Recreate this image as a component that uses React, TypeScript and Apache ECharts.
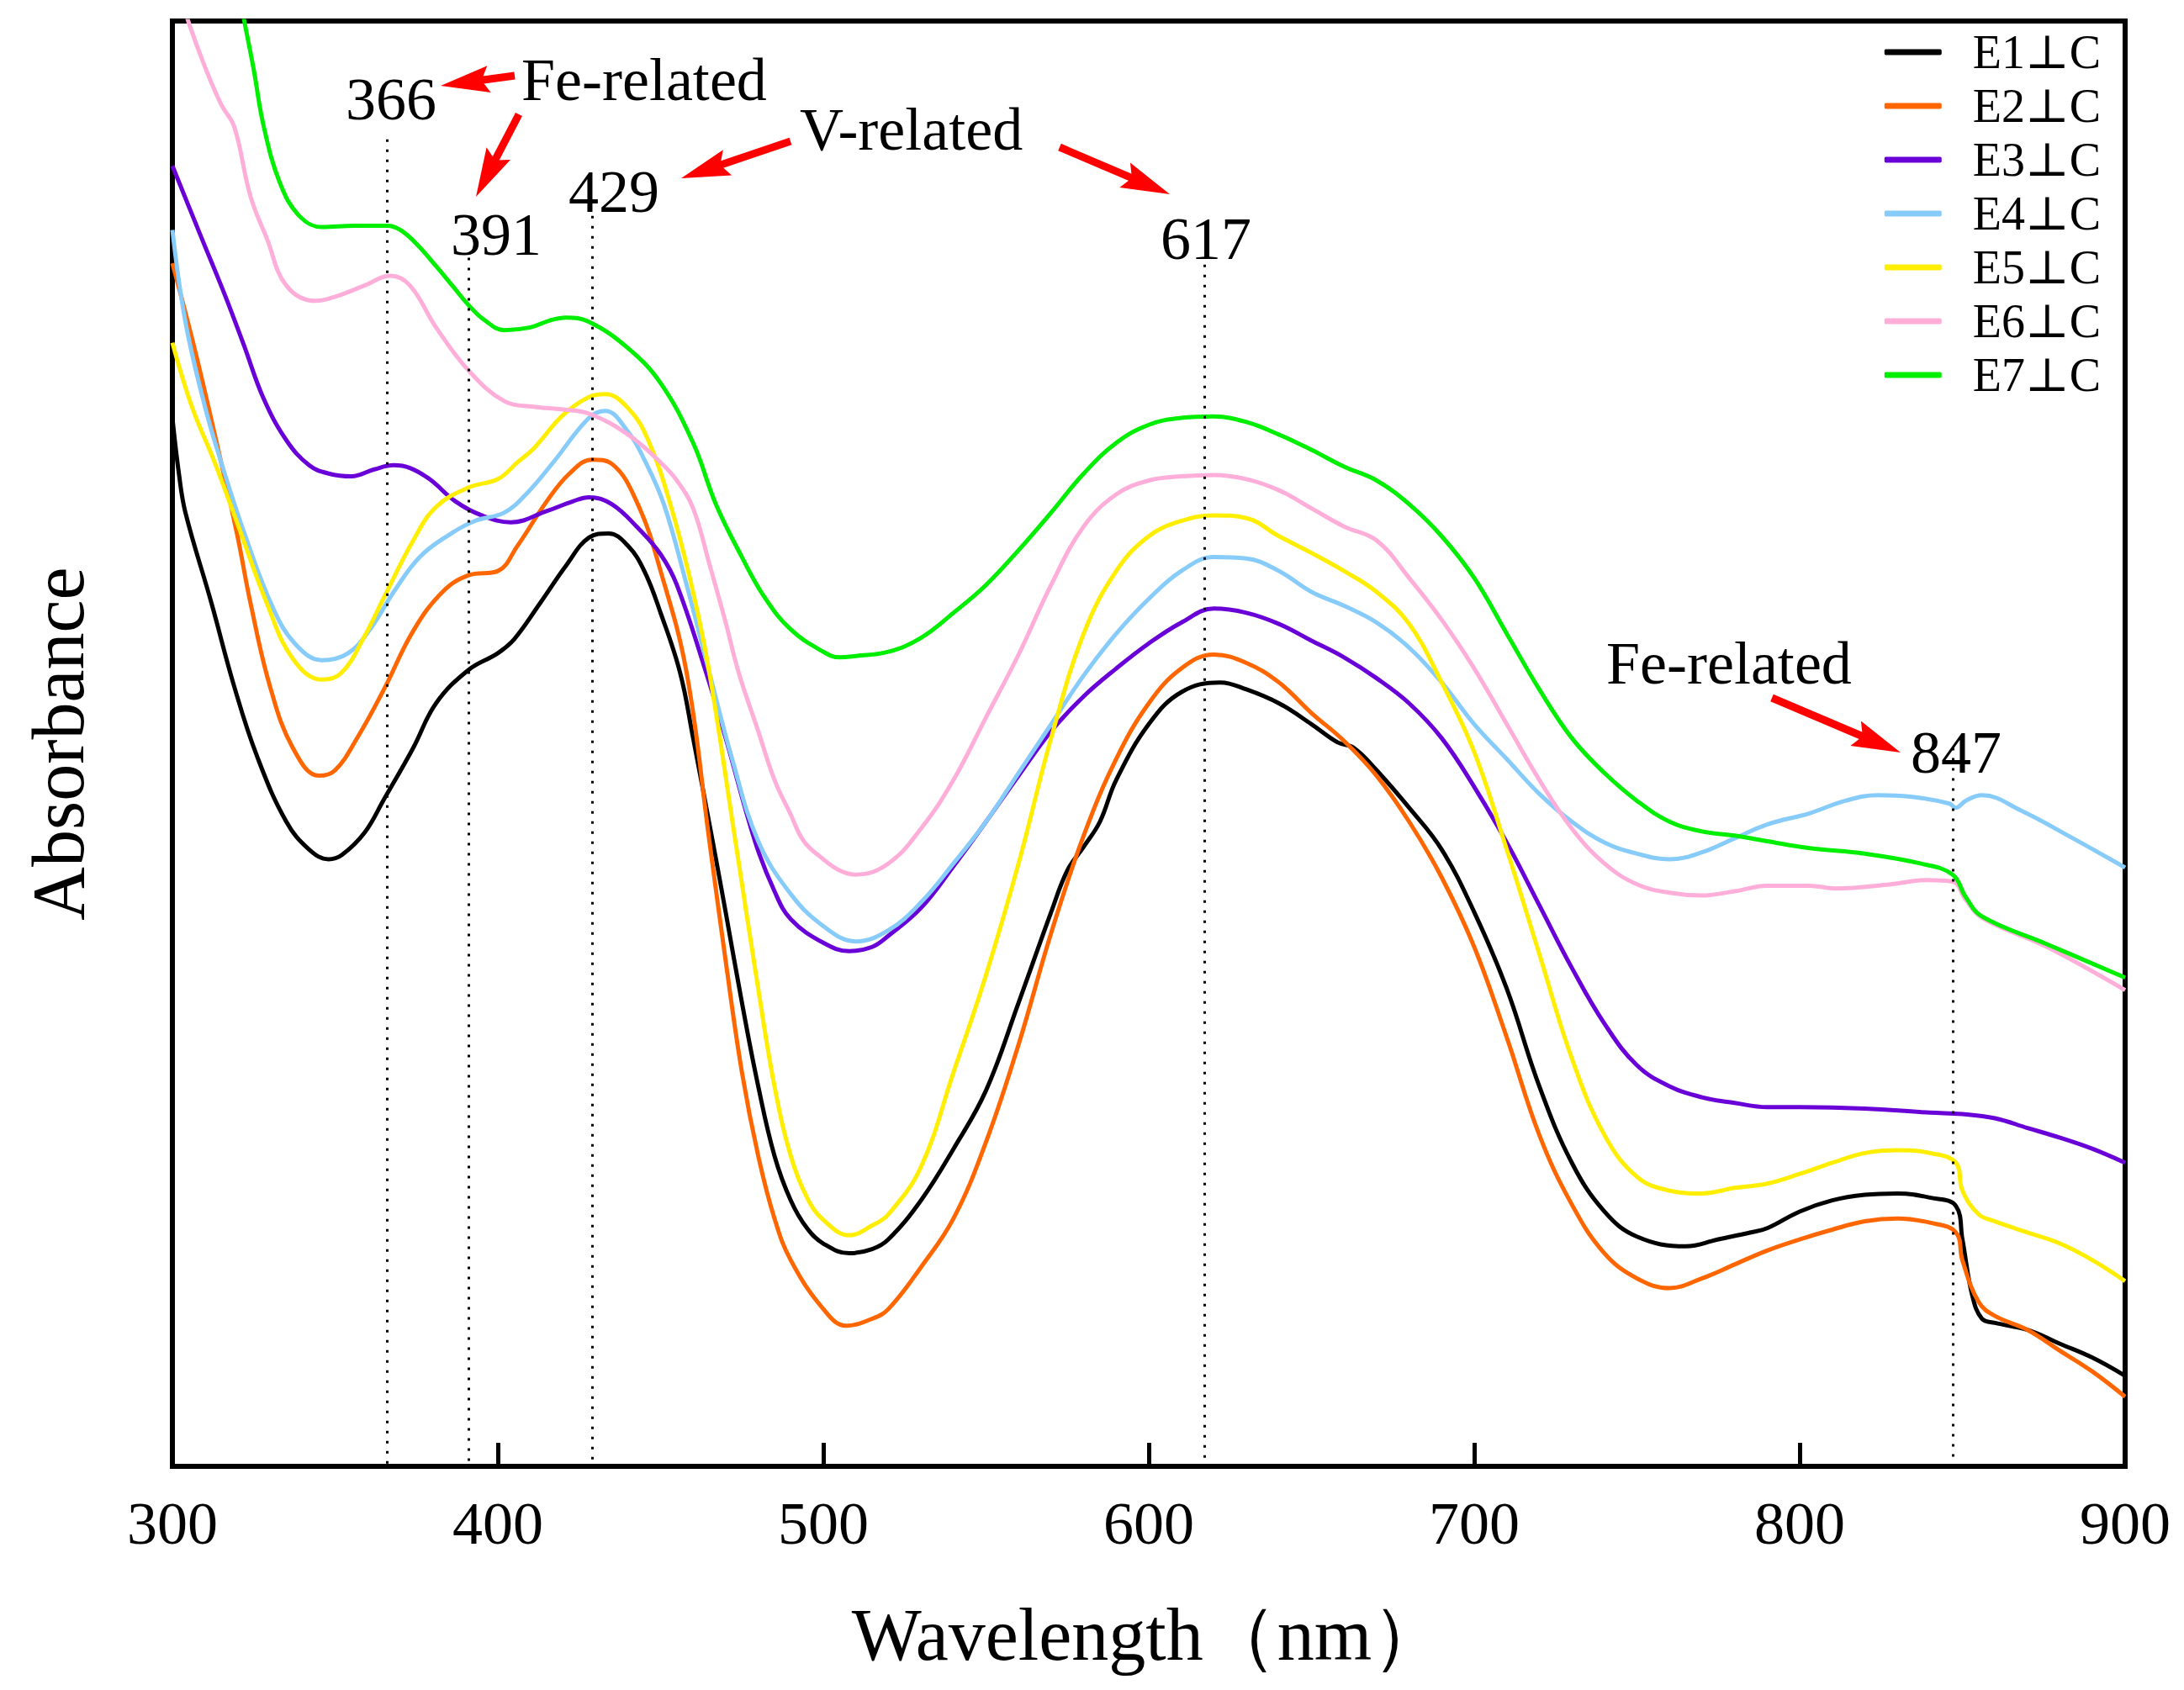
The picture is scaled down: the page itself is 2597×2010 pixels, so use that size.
import React, { useEffect, useRef } from "react";
import * as echarts from "echarts";

const FONT = '"Liberation Serif", "Times New Roman", "DejaVu Serif", serif';

const SERIES_NAMES = ["E1⊥C", "E2⊥C", "E3⊥C", "E4⊥C", "E5⊥C", "E6⊥C", "E7⊥C"];
const SERIES_COLORS = ["#000000", "#FF6600", "#6A00D8", "#86CBFA", "#FFEE00", "#FFAED9", "#00EE00"];

// [wavelength nm, absorbance a.u.]
const E1: number[][] = [
  [300, 0.753], [302, 0.713], [304, 0.685], [312, 0.62], [319, 0.56], [326, 0.51], [335, 0.463], [342, 0.443],
  [348, 0.436], [352, 0.439], [359, 0.455], [365, 0.479], [374, 0.516], [381, 0.548], [391, 0.572], [400, 0.584],
  [405, 0.594], [413, 0.62], [421, 0.647], [428, 0.667], [434, 0.67], [440, 0.661], [445, 0.643], [450, 0.613],
  [456, 0.57], [460, 0.523], [466, 0.449], [470, 0.398], [475, 0.333], [480, 0.273], [485, 0.223], [490, 0.191],
  [495, 0.171], [500, 0.16], [508, 0.153], [515, 0.156], [520, 0.163], [530, 0.191], [540, 0.228], [550, 0.27],
  [560, 0.333], [570, 0.398], [575, 0.428], [580, 0.445], [585, 0.463], [590, 0.493], [600, 0.533], [610, 0.556],
  [622, 0.563], [630, 0.558], [640, 0.548], [650, 0.533], [658, 0.52], [663, 0.516], [670, 0.5], [680, 0.473],
  [690, 0.443], [700, 0.398], [710, 0.343], [720, 0.273], [730, 0.218], [740, 0.183], [750, 0.165], [765, 0.158],
  [775, 0.163], [785, 0.168], [790, 0.171], [800, 0.183], [810, 0.191], [820, 0.195], [830, 0.196], [840, 0.193],
  [848, 0.187], [850, 0.163], [853, 0.123], [856, 0.106], [860, 0.103], [870, 0.098], [880, 0.088], [890, 0.078],
  [900, 0.065],
];
const E2: number[][] = [
  [300, 0.864], [307, 0.801], [314, 0.731], [320, 0.668], [324, 0.62], [330, 0.56], [337, 0.516], [345, 0.496],
  [350, 0.5], [357, 0.524], [365, 0.558], [374, 0.6], [383, 0.628], [391, 0.64], [400, 0.643], [406, 0.661],
  [415, 0.693], [422, 0.713], [429, 0.723], [435, 0.72], [443, 0.691], [450, 0.643], [458, 0.57], [465, 0.449],
  [470, 0.363], [475, 0.283], [480, 0.223], [485, 0.178], [490, 0.148], [500, 0.113], [507, 0.101], [515, 0.106],
  [520, 0.113], [530, 0.143], [540, 0.178], [550, 0.233], [560, 0.303], [570, 0.383], [580, 0.453], [590, 0.508],
  [600, 0.548], [610, 0.573], [620, 0.583], [630, 0.577], [640, 0.563], [650, 0.541], [660, 0.521], [670, 0.496],
  [680, 0.463], [690, 0.423], [700, 0.373], [710, 0.308], [720, 0.238], [730, 0.188], [740, 0.153], [750, 0.135],
  [760, 0.128], [770, 0.135], [780, 0.145], [790, 0.155], [800, 0.163], [810, 0.17], [820, 0.176], [830, 0.178],
  [840, 0.175], [848, 0.168], [850, 0.148], [855, 0.118], [860, 0.108], [870, 0.098], [880, 0.083], [890, 0.068],
  [900, 0.05],
];
const E3: number[][] = [
  [300, 0.934], [309, 0.882], [316, 0.842], [322, 0.805], [328, 0.767], [335, 0.737], [342, 0.719], [348, 0.713],
  [355, 0.711], [362, 0.716], [368, 0.719], [373, 0.717], [379, 0.709], [387, 0.693], [395, 0.683], [404, 0.678],
  [415, 0.686], [423, 0.693], [428, 0.696], [435, 0.691], [443, 0.674], [450, 0.655], [455, 0.633], [464, 0.57],
  [470, 0.523], [479, 0.449], [485, 0.413], [490, 0.393], [500, 0.376], [508, 0.37], [515, 0.373], [520, 0.381],
  [530, 0.401], [540, 0.431], [550, 0.463], [560, 0.496], [570, 0.528], [580, 0.553], [590, 0.573], [600, 0.591],
  [610, 0.606], [620, 0.616], [630, 0.613], [640, 0.605], [650, 0.593], [660, 0.581], [670, 0.566], [680, 0.548],
  [690, 0.523], [700, 0.488], [710, 0.448], [720, 0.403], [730, 0.358], [740, 0.318], [750, 0.288], [760, 0.273],
  [770, 0.265], [780, 0.261], [790, 0.258], [800, 0.258], [820, 0.257], [840, 0.254], [850, 0.253], [860, 0.25],
  [870, 0.243], [880, 0.236], [890, 0.228], [900, 0.218],
];
const E4: number[][] = [
  [300, 0.888], [304, 0.822], [310, 0.761], [315, 0.721], [322, 0.671], [331, 0.616], [338, 0.59], [346, 0.579],
  [354, 0.584], [361, 0.602], [368, 0.628], [376, 0.653], [385, 0.669], [393, 0.679], [402, 0.685], [409, 0.699],
  [417, 0.721], [428, 0.753], [433, 0.758], [440, 0.743], [445, 0.723], [451, 0.691], [458, 0.633], [465, 0.57],
  [472, 0.508], [480, 0.449], [490, 0.411], [500, 0.388], [510, 0.377], [520, 0.385], [530, 0.405], [540, 0.433],
  [550, 0.463], [560, 0.498], [570, 0.533], [580, 0.568], [590, 0.598], [600, 0.623], [610, 0.643], [620, 0.653],
  [630, 0.652], [640, 0.643], [650, 0.628], [660, 0.618], [670, 0.606], [680, 0.588], [690, 0.563], [700, 0.533],
  [710, 0.508], [720, 0.483], [730, 0.463], [740, 0.448], [750, 0.44], [760, 0.436], [770, 0.441], [780, 0.451],
  [790, 0.461], [803, 0.469], [814, 0.478], [824, 0.482], [834, 0.481], [846, 0.476], [848, 0.473], [851, 0.478],
  [856, 0.482], [868, 0.471], [884, 0.451], [900, 0.43],
];
const E5: number[][] = [
  [300, 0.807], [306, 0.761], [313, 0.721], [320, 0.677], [329, 0.62], [337, 0.58], [346, 0.565], [352, 0.57],
  [359, 0.596], [365, 0.624], [374, 0.665], [381, 0.689], [391, 0.703], [400, 0.709], [406, 0.721], [411, 0.731],
  [420, 0.755], [428, 0.768], [433, 0.77], [440, 0.76], [446, 0.738], [453, 0.691], [460, 0.628], [465, 0.57],
  [473, 0.449], [480, 0.343], [485, 0.273], [490, 0.223], [495, 0.193], [500, 0.177], [508, 0.166], [515, 0.173],
  [520, 0.181], [530, 0.215], [540, 0.283], [550, 0.353], [560, 0.433], [570, 0.523], [580, 0.598], [590, 0.643],
  [600, 0.668], [610, 0.679], [620, 0.683], [630, 0.681], [640, 0.668], [650, 0.656], [660, 0.643], [670, 0.628],
  [680, 0.605], [690, 0.563], [700, 0.513], [710, 0.443], [720, 0.368], [730, 0.293], [740, 0.238], [750, 0.208],
  [760, 0.198], [770, 0.196], [780, 0.2], [790, 0.203], [800, 0.21], [810, 0.218], [820, 0.225], [830, 0.227],
  [840, 0.225], [848, 0.218], [850, 0.198], [855, 0.181], [860, 0.176], [870, 0.168], [880, 0.16], [890, 0.148],
  [900, 0.133],
];
const E6: number[][] = [
  [300, 1.075], [305, 1.037], [310, 1.005], [315, 0.978], [319, 0.962], [324, 0.912], [329, 0.882], [335, 0.848],
  [344, 0.837], [350, 0.84], [359, 0.848], [367, 0.855], [373, 0.848], [381, 0.818], [391, 0.787], [402, 0.765],
  [411, 0.761], [420, 0.759], [428, 0.756], [440, 0.741], [450, 0.721], [455, 0.708], [460, 0.688], [465, 0.648],
  [470, 0.606], [474, 0.57], [480, 0.528], [485, 0.493], [490, 0.468], [494, 0.449], [500, 0.436], [505, 0.428],
  [510, 0.425], [520, 0.433], [530, 0.458], [540, 0.493], [550, 0.538], [560, 0.583], [570, 0.633], [580, 0.675],
  [590, 0.698], [600, 0.708], [610, 0.711], [620, 0.712], [630, 0.709], [640, 0.701], [650, 0.688], [660, 0.675],
  [670, 0.665], [680, 0.638], [690, 0.608], [700, 0.573], [710, 0.533], [720, 0.493], [730, 0.458], [740, 0.433],
  [750, 0.418], [760, 0.412], [770, 0.41], [780, 0.413], [790, 0.417], [803, 0.417], [811, 0.415], [828, 0.418],
  [839, 0.421], [847, 0.42], [851, 0.407], [856, 0.394], [876, 0.373], [900, 0.342],
];
const E7: number[][] = [
  [320, 1.063], [322, 1.039], [325, 1.003], [328, 0.963], [333, 0.922], [339, 0.898], [346, 0.89], [356, 0.891],
  [366, 0.891], [370, 0.888], [375, 0.878], [381, 0.862], [386, 0.848], [391, 0.834], [396, 0.823], [402, 0.816],
  [410, 0.818], [416, 0.823], [421, 0.825], [428, 0.822], [440, 0.803], [450, 0.778], [460, 0.735], [467, 0.691],
  [475, 0.653], [482, 0.624], [490, 0.601], [500, 0.585], [505, 0.581], [510, 0.582], [520, 0.585], [530, 0.595],
  [540, 0.613], [550, 0.633], [560, 0.658], [570, 0.685], [580, 0.713], [590, 0.735], [600, 0.748], [610, 0.753],
  [620, 0.754], [630, 0.75], [640, 0.741], [650, 0.73], [660, 0.718], [670, 0.708], [680, 0.691], [690, 0.668],
  [700, 0.638], [710, 0.598], [720, 0.558], [730, 0.523], [740, 0.498], [750, 0.478], [760, 0.463], [770, 0.456],
  [780, 0.453], [790, 0.449], [803, 0.444], [820, 0.44], [837, 0.433], [847, 0.425], [851, 0.409], [856, 0.395],
  [876, 0.375], [900, 0.351],
];
const SERIES_DATA = [E1, E2, E3, E4, E5, E6, E7];

// band positions (nm) and the absorbance where each dotted guide line starts
const PEAK_NM = [366, 391, 429, 617, 847];
const PEAK_LINE_TOP = [0.953, 0.868, 0.898, 0.863, 0.516];

const X_MIN = 300;
const X_MAX = 900;
const X_STEP = 100;
const Y_MIN = 0;
const Y_MAX = 1.038;

// annotation layout (pixels)
const PEAK_LABEL_POS = [
  [465, 118],
  [590, 279],
  [730, 228],
  [1434, 284],
  [2326, 895],
];
const NOTE_TEXTS = [
  { text: "Fe-related", x: 620, y: 95 },
  { text: "V-related", x: 951, y: 154 },
  { text: "Fe-related", x: 1910, y: 789 },
];
const ARROWS = [
  [612, 90, 524, 102],
  [617, 136, 566, 234],
  [940, 168, 810, 212],
  [1260, 175, 1391, 231],
  [2107, 830, 2260, 895],
];

function arrow(x1: number, y1: number, x2: number, y2: number) {
  const dx = x2 - x1;
  const dy = y2 - y1;
  const len = Math.hypot(dx, dy);
  const ux = dx / len;
  const uy = dy / len;
  const L = 58;
  const W = 16;
  const bx = x2 - ux * L;
  const by = y2 - uy * L;
  const px = -uy;
  const py = ux;
  return [
    {
      type: "line",
      silent: true,
      shape: { x1, y1, x2: bx + ux * 12, y2: by + uy * 12 },
      style: { stroke: "#FF0000", lineWidth: 9 },
    },
    {
      type: "polygon",
      silent: true,
      shape: {
        points: [
          [x2, y2],
          [bx + px * W, by + py * W],
          [bx + ux * 9, by + uy * 9],
          [bx - px * W, by - py * W],
        ],
      },
      style: { fill: "#FF0000" },
    },
  ];
}

function textEl(text: string, x: number, y: number, align: string) {
  return {
    type: "text",
    silent: true,
    x,
    y,
    style: {
      text,
      fontSize: 72,
      fontFamily: FONT,
      fill: "#000",
      align,
      verticalAlign: "middle",
      textAlign: align,
      textVerticalAlign: "middle",
    },
  };
}

export default function App() {
  const ref = useRef<HTMLDivElement>(null);

  useEffect(() => {
    const chart = echarts.init(ref.current as HTMLDivElement, null, { renderer: "svg" });

    const graphics: any[] = [];
    PEAK_NM.forEach((nm, i) => {
      graphics.push(textEl(String(nm), PEAK_LABEL_POS[i][0], PEAK_LABEL_POS[i][1], "center"));
    });
    NOTE_TEXTS.forEach((n) => graphics.push(textEl(n.text, n.x, n.y, "left")));
    ARROWS.forEach((a) => graphics.push(...arrow(a[0], a[1], a[2], a[3])));

    const series: any[] = SERIES_NAMES.map((name, i) => ({
      name,
      type: "line",
      data: SERIES_DATA[i],
      showSymbol: false,
      symbol: "none",
      smooth: 0.4,
      silent: true,
      clip: true,
      lineStyle: { width: 5, color: SERIES_COLORS[i] },
      itemStyle: { color: SERIES_COLORS[i] },
      z: 3,
    }));
    series[0].markLine = {
      silent: true,
      symbol: ["none", "none"],
      label: { show: false },
      emphasis: { disabled: true },
      animation: false,
      lineStyle: { color: "#000", width: 3, type: [3, 9] },
      data: PEAK_NM.map((nm, i) => [{ coord: [nm, PEAK_LINE_TOP[i]] }, { coord: [nm, Y_MIN] }]),
    };

    const option: any = {
      animation: false,
      backgroundColor: "#ffffff",
      grid: {
        left: 205,
        right: 70,
        top: 25,
        bottom: 266,
        show: true,
        borderColor: "#000",
        borderWidth: 6,
        backgroundColor: "transparent",
      },
      legend: {
        orient: "vertical",
        right: 99,
        top: 34,
        padding: 0,
        itemGap: 8,
        itemWidth: 68,
        itemHeight: 7,
        icon: "roundRect",
        selectedMode: false,
        data: SERIES_NAMES,
        textStyle: {
          fontSize: 56,
          fontFamily: FONT,
          color: "#000",
          lineHeight: 56,
          padding: [0, 0, 0, 32],
        },
      },
      xAxis: {
        type: "value",
        min: X_MIN,
        max: X_MAX,
        interval: X_STEP,
        name: "Wavelength（nm）",
        nameLocation: "middle",
        nameGap: 156,
        nameTextStyle: { fontSize: 88, fontFamily: FONT, color: "#000" },
        axisLine: { show: true, lineStyle: { color: "#000", width: 6 } },
        axisTick: { show: true, inside: true, length: 28, lineStyle: { color: "#000", width: 5 } },
        axisLabel: { fontSize: 72, fontFamily: FONT, color: "#000", margin: 32 },
        splitLine: { show: false },
      },
      yAxis: {
        type: "value",
        min: Y_MIN,
        max: Y_MAX,
        name: "Absorbance",
        nameLocation: "middle",
        nameGap: 92,
        nameTextStyle: { fontSize: 88, fontFamily: FONT, color: "#000" },
        axisLine: { show: true, lineStyle: { color: "#000", width: 6 } },
        axisTick: { show: false },
        axisLabel: { show: false },
        splitLine: { show: false },
      },
      series,
      graphic: graphics,
    };

    chart.setOption(option);
    return () => chart.dispose();
  }, []);

  return (
    <div
      ref={ref}
      style={{ position: "fixed", left: 0, top: 0, width: 2597, height: 2010, background: "#fff" }}
    />
  );
}
